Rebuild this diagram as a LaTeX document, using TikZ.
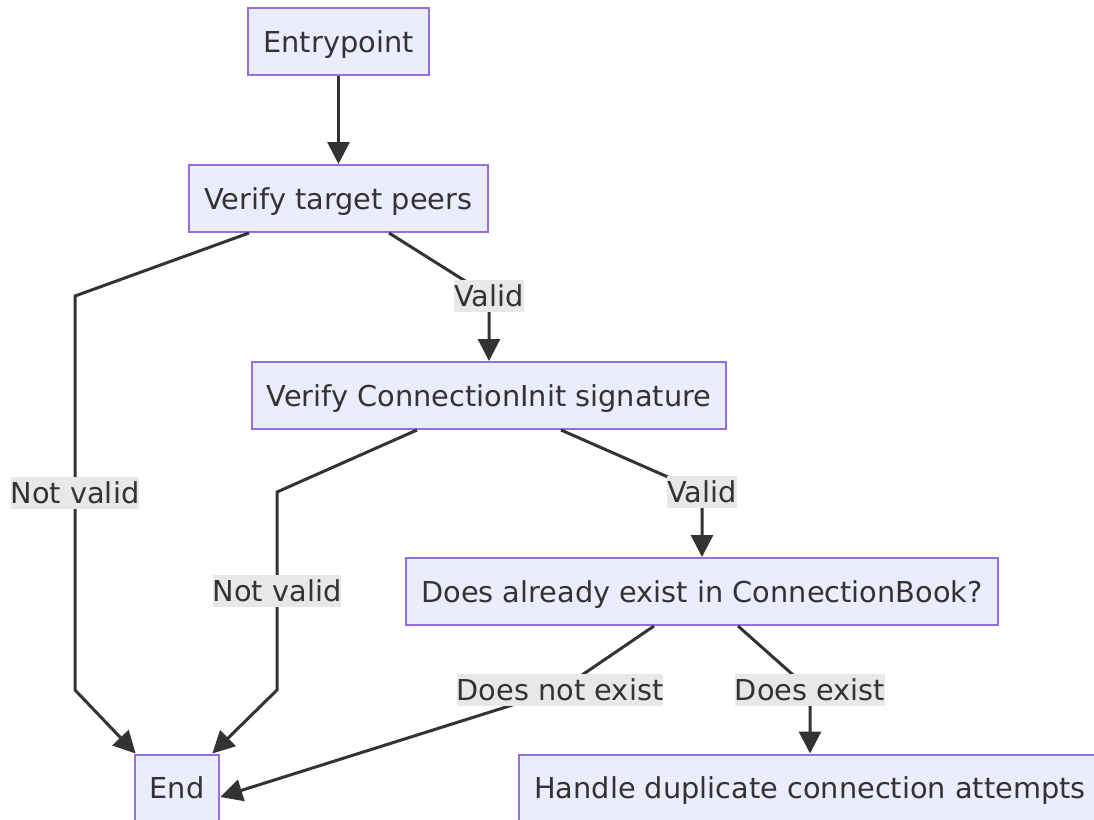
\documentclass[tikz,border=0pt]{standalone}
\usepackage{fontspec}
\setmainfont{DejaVu Sans}
\usetikzlibrary{arrows.meta,positioning}
\definecolor{boxfill}{HTML}{ECECFF}
\definecolor{boxline}{HTML}{9370DB}
\definecolor{inkgray}{HTML}{333333}
\definecolor{lblfill}{HTML}{E8E8E8}
\begin{document}
\begin{tikzpicture}[x=1pt,y=-1pt,
  every node/.style={font=\fontsize{28.8}{34}\selectfont,text=inkgray},
  box/.style={rectangle,draw=boxline,line width=2pt,fill=boxfill,minimum height=67pt,inner xsep=15pt,text height=25pt,text depth=3.7pt},
  lbl/.style={fill=lblfill,inner xsep=0pt,inner ysep=2pt,text height=25pt,text depth=3.7pt},
  flow/.style={draw=inkgray,line width=3pt,-{Triangle[length=22pt,width=22pt]}}]
  \useasboundingbox (0,0) rectangle (1094,819);
  % Steps
  \node[box] (entry) at (338.5,41.5) {Entrypoint};
  \node[box] (peers) at (338.5,198.5) {Verify target peers};
  \node[box] (sig) at (489,395.5) {Verify ConnectionInit signature};
  \node[box] (exist) at (702,591.5) {Does already exist in ConnectionBook?};
  \node[box] (end) at (177,788) {End};
  \node[box] (dup) at (810,788) {Handle duplicate connection attempts};
  % Main path
  \draw[flow] (entry) -- (peers);
  \draw[flow] ([xshift=50.5pt]peers.south) -- (489,296) node[lbl] (valid1) {Valid} -- (sig);
  \draw[flow] ([xshift=72pt]sig.south) -- (702,492) node[lbl] (valid2) {Valid} -- (exist);
  \draw[flow] ([xshift=36pt]exist.south) -- (810,690) node[lbl] (doesexist) {Does exist} -- (dup);
  % Failures
  \draw[flow] ([xshift=-89.5pt]peers.south) -- (75,296) -- node[lbl] (invalid1) {Not valid} (75,690) -- ([xshift=2pt]end.north west);
  \draw[flow] ([xshift=-72pt]sig.south) -- (277,492) -- node[lbl] (invalid2) {Not valid} (277,690) -- ([xshift=-8pt]end.north east);
  \draw[flow] ([xshift=-48pt]exist.south) -- (560,690) node[lbl] (notexist) {Does not exist} -- ([yshift=-9pt]end.east);
\end{tikzpicture}
\end{document}
